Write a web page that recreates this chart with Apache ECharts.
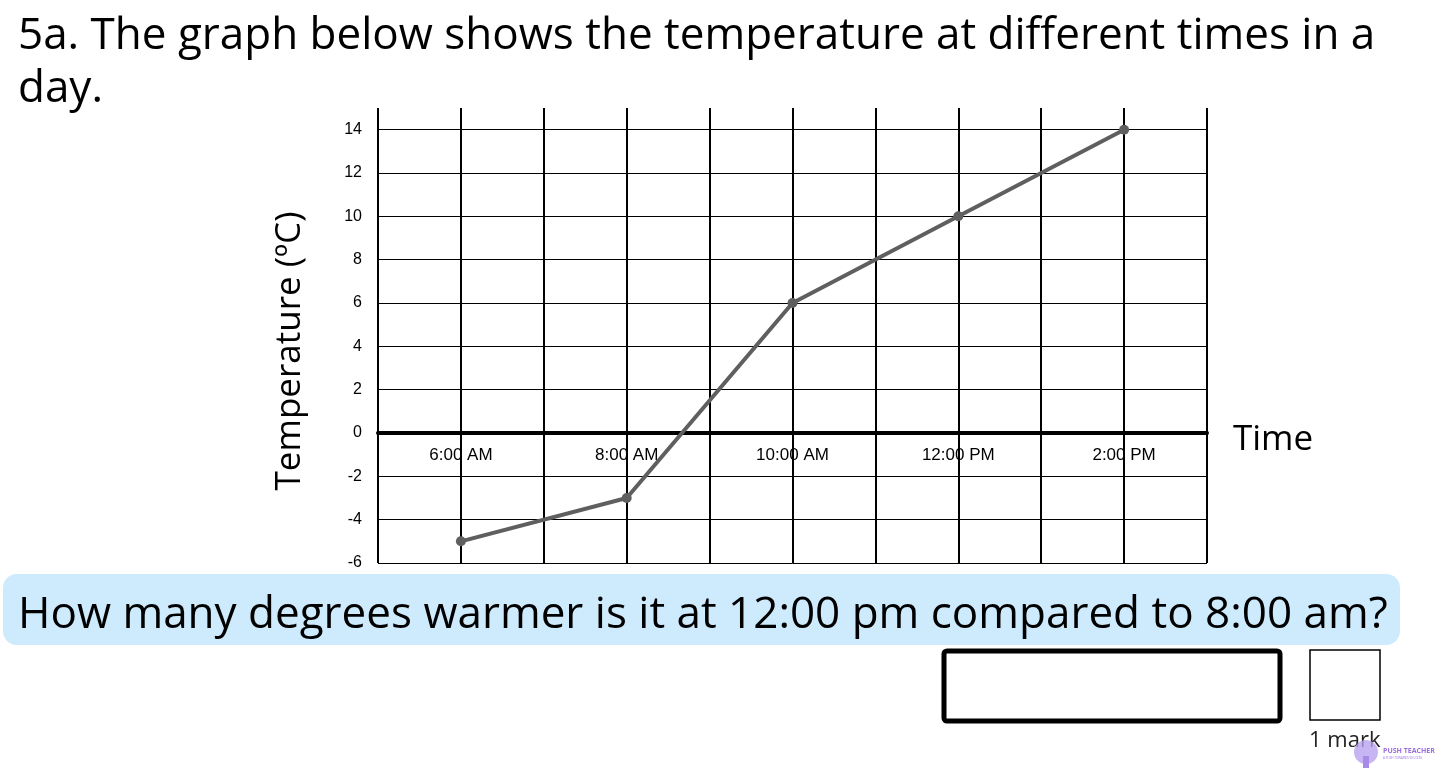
<!DOCTYPE html>
<html>
<head>
<meta charset="utf-8">
<script src="https://cdn.jsdelivr.net/npm/echarts@6/dist/echarts.min.js"></script>
<style>
html,body{margin:0;padding:0;background:#fff;}
#chart{width:1443px;height:773px;}
</style>
</head>
<body>
<div id="chart"></div>
<script>
// Data
const timeHours = [6, 8, 10, 12, 14];
const temperatures = [-5, -3, 6, 10, 14];
const timeTickLabels = {6: '6:00 AM', 8: '8:00 AM', 10: '10:00 AM', 12: '12:00 PM', 14: '2:00 PM'};
const yTickValues = [-6, -4, -2, 0, 2, 4, 6, 8, 10, 12, 14];

const titleLine1 = '5a. The graph below shows the temperature at different times in a';
const titleLine2 = 'day.';
const questionText = 'How many degrees warmer is it at 12:00 pm compared to 8:00 am?';

const chart = echarts.init(document.getElementById('chart'));
const font = '"Open Sans", "Noto Sans", sans-serif';

chart.setOption({
  animation: false,
  backgroundColor: '#ffffff',
  grid: {left: 378, right: 236, top: 108, bottom: 210, containLabel: false},
  xAxis: {
    type: 'value',
    min: 5, max: 15, interval: 1,
    axisLine: {show: true, onZero: true, lineStyle: {color: '#000', width: 4}},
    axisTick: {show: false},
    axisLabel: {
      show: true, margin: -116,
      color: '#000', fontFamily: 'Liberation Sans, Arial, sans-serif', fontSize: 17,
      formatter: v => timeTickLabels[v] || ''
    },
    splitLine: {show: true, lineStyle: {color: '#000', width: 2}},
    name: 'Time',
    nameLocation: 'end',
    nameGap: 26,
    nameTextStyle: {color: '#000', fontFamily: font, fontSize: 35, verticalAlign: 'top', lineHeight: 14}
  },
  yAxis: {
    type: 'value',
    min: -6, max: 15, interval: 1,
    axisLine: {show: false},
    axisTick: {show: false},
    axisLabel: {
      color: '#000', fontFamily: 'Liberation Sans, Arial, sans-serif', fontSize: 16, margin: 16,
      formatter: v => (yTickValues.indexOf(v) >= 0 ? String(v) : '')
    },
    splitLine: {show: true, lineStyle: {color: ['#000', 'rgba(0,0,0,0)'], width: 1}}
  },
  series: [{
    type: 'line',
    data: timeHours.map((t, i) => [t, temperatures[i]]),
    symbol: 'circle',
    symbolSize: 10,
    lineStyle: {color: '#5f5f5f', width: 4},
    itemStyle: {color: '#5f5f5f'},
    z: 5
  }],
  graphic: [
    {type: 'text', x: 18, y: 36, style: {text: titleLine1, font: '44px ' + font, fill: '#000', verticalAlign: 'middle'}},
    {type: 'text', x: 18, y: 89, style: {text: titleLine2, font: '44px ' + font, fill: '#000', verticalAlign: 'middle'}},
    {type: 'text', x: 290, y: 351, rotation: Math.PI / 2,
      style: {text: 'Temperature (ºC)', font: '35px ' + font, fill: '#000', align: 'center', verticalAlign: 'middle'}},
    {type: 'rect', shape: {x: 3, y: 574, width: 1397, height: 71, r: 14}, style: {fill: '#cdebfd'}},
    {type: 'text', x: 18, y: 615, style: {text: questionText, font: '44px ' + font, fill: '#000', verticalAlign: 'middle'}},
    {type: 'rect', shape: {x: 944, y: 651, width: 336, height: 70, r: 3}, style: {fill: '#fff', stroke: '#000', lineWidth: 5}},
    {type: 'rect', shape: {x: 1310, y: 650, width: 70, height: 70}, style: {fill: '#fff', stroke: '#000', lineWidth: 1.5}},
    {type: 'text', x: 1309, y: 741, style: {text: '1 mark', font: '22px ' + font, fill: '#222', verticalAlign: 'middle'}},
    {type: 'circle', shape: {cx: 1366, cy: 752, r: 12}, style: {fill: '#b9a2f0', opacity: 0.8}},
    {type: 'rect', shape: {x: 1363, y: 756, width: 6, height: 12}, style: {fill: '#a88be6'}},
    {type: 'text', x: 1383, y: 751, style: {text: 'PUSH TEACHER', font: 'bold 7px ' + font, fill: '#9b6fe0', verticalAlign: 'middle'}},
    {type: 'text', x: 1383, y: 758, style: {text: 'A PUSH TOWARDS SUCCESS', font: '3px ' + font, fill: '#9b6fe0', verticalAlign: 'middle'}}
  ]
});
</script>
</body>
</html>
